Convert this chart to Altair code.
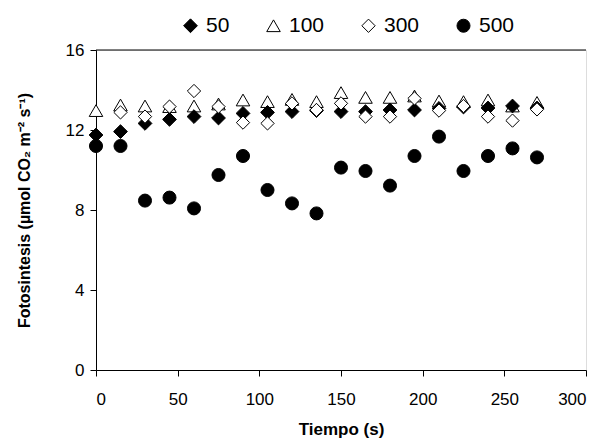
import altair as alt
import pandas as pd

times = [0, 15, 30, 45, 60, 75, 90, 105, 120, 135, 150, 165, 180, 195, 210, 225, 240, 255, 270]

s50 = [11.75, 11.92, 12.33, 12.53, 12.67, 12.6, 12.83, 12.88, 12.92, 12.97, 12.92, 12.92, 13.0, 13.0, 13.08, 13.15, 13.1, 13.2, 13.1]
s100 = [12.97, 13.25, 13.2, 13.17, 13.2, 13.3, 13.5, 13.42, 13.53, 13.42, 13.87, 13.63, 13.63, 13.7, 13.45, 13.42, 13.5, 13.2, 13.38]
s300_t = [15, 30, 45, 60, 75, 90, 105, 120, 135, 150, 165, 180, 195, 210, 225, 240, 255, 270]
s300 = [12.88, 12.67, 13.17, 13.95, 13.17, 12.37, 12.33, 13.33, 13.0, 13.33, 12.67, 12.67, 13.58, 12.97, 13.2, 12.67, 12.47, 13.03]
s500 = [11.2, 11.2, 8.47, 8.62, 8.08, 9.75, 10.7, 9.0, 8.33, 7.83, 10.12, 9.95, 9.22, 10.7, 11.67, 9.95, 10.7, 11.08, 10.63]

series = ["50", "100", "300", "500"]
shapes = ["diamond", "triangle-up", "diamond", "circle"]
fills = ["black", "white", "white", "black"]
sizes = [190, 170, 190, 140]

rows = []
rows += [{"t": t, "v": v, "s": "100"} for t, v in zip(times, s100)]
rows += [{"t": t, "v": v, "s": "50"} for t, v in zip(times, s50)]
rows += [{"t": t, "v": v, "s": "300"} for t, v in zip(s300_t, s300)]
rows += [{"t": t, "v": v, "s": "500"} for t, v in zip(times, s500)]
df = pd.DataFrame(rows)

FONT = "Liberation Sans"
W, H = 490, 320

legend = alt.Legend(title=None, orient="none", direction="horizontal",
                    legendX=84, legendY=-35,
                    labelFontSize=21, labelFont=FONT, labelColor="black",
                    labelOffset=5, columnPadding=33, symbolStrokeWidth=1)

points = alt.Chart(df).mark_point(strokeWidth=1, opacity=1, filled=False).encode(
    x=alt.X("t:Q", scale=alt.Scale(domain=[0, 300], nice=False),
            axis=alt.Axis(title="Tiempo (s)", values=[0, 50, 100, 150, 200, 250, 300],
                          grid=False, tickSize=6, domainColor="black", tickColor="black",
                          labelFontSize=17, titleFontSize=17, titleFontWeight="bold",
                          labelFont=FONT, titleFont=FONT, labelPadding=15,
                          titleX=W / 2, titleY=59, titleBaseline="middle", titleAlign="center",
                          labelColor="black", titleColor="black")),
    y=alt.Y("v:Q", scale=alt.Scale(domain=[0, 16], nice=False),
            axis=alt.Axis(title="Fotosintesis (µmol CO₂ m⁻² s⁻¹)", values=[0, 4, 8, 12, 16],
                          grid=False, tickSize=6, domainColor="black", tickColor="black",
                          labelFontSize=17, titleFontSize=16, titleFontWeight="bold",
                          labelFont=FONT, titleFont=FONT, labelPadding=6,
                          titleX=-72, titleY=H / 2, titleBaseline="middle", titleAlign="center",
                          titleAngle=270,
                          labelColor="black", titleColor="black")),
    shape=alt.Shape("s:N", scale=alt.Scale(domain=series, range=shapes), legend=legend),
    fill=alt.Fill("s:N", scale=alt.Scale(domain=series, range=fills), legend=legend),
    stroke=alt.Stroke("s:N", scale=alt.Scale(domain=series, range=["black"] * 4), legend=legend),
    size=alt.Size("s:N", scale=alt.Scale(domain=series, range=sizes), legend=legend),
    order=alt.value(0),
)

top = alt.Chart(pd.DataFrame({"y": [16]})).mark_rule(color="black", strokeWidth=1).encode(
    y=alt.Y("y:Q", scale=alt.Scale(domain=[0, 16])))

chart = alt.layer(top, points).properties(
    width=W, height=H,
    autosize=alt.AutoSizeParams(type="none"),
    padding={"left": 88, "top": 42, "right": 12, "bottom": 73},
).configure_view(stroke=None).configure(background="white")

chart.save("out.html", embed_options={"renderer": "svg", "actions": False})
